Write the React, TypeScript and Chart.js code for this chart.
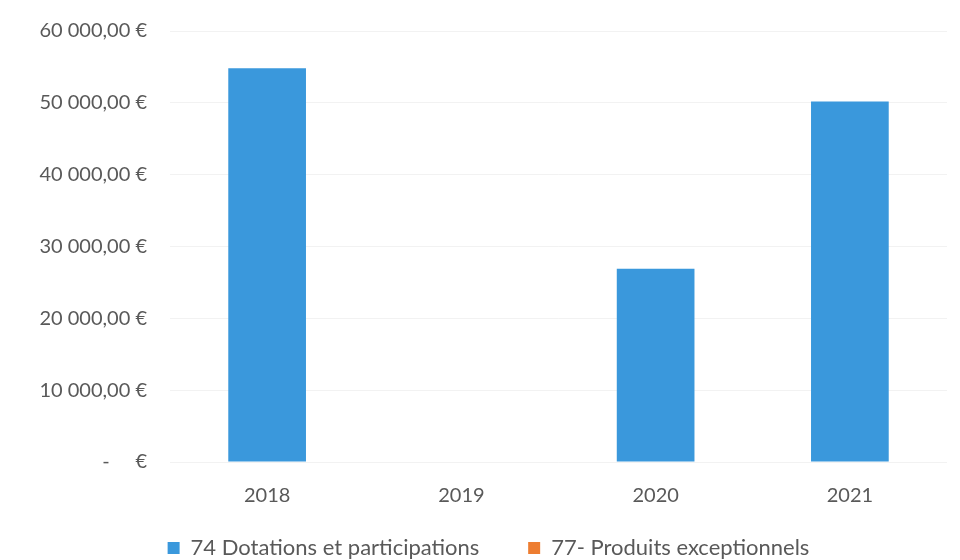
import React, { useEffect, useRef } from "react";
import { Chart, registerables } from "chart.js";

Chart.register(...registerables);

const categories = ["2018", "2019", "2020", "2021"];
const dotations = [54800, 0, 26900, 50200];
const produitsExceptionnels = [0, 0, 0, 0];
const seriesNames = ["74 Dotations et participations", "77- Produits exceptionnels"];
const yTicks = [0, 10000, 20000, 30000, 40000, 50000, 60000];

const FONT = "Lato, 'Open Sans', sans-serif";
const TEXT = "#595959";
const LEFT_PAD = 30;

function fmt(v: number): string {
  if (v === 0) return "-     €";
  const s = Math.round(v).toString().replace(/\B(?=(\d{3})+(?!\d))/g, " ");
  return s + ",00 €";
}

export default function App() {
  const ref = useRef<HTMLCanvasElement | null>(null);
  useEffect(() => {
    if (!ref.current) return;
    const chart = new Chart(ref.current, {
      type: "bar",
      data: {
        labels: categories,
        datasets: [
          {
            label: seriesNames[0],
            data: dotations,
            backgroundColor: "#3A98DC",
            barPercentage: 0.4,
            categoryPercentage: 1,
          },
          {
            label: seriesNames[1],
            data: produitsExceptionnels,
            backgroundColor: "#ED7D31",
            barPercentage: 0.4,
            categoryPercentage: 1,
          },
        ],
      },
      options: {
        animation: false,
        responsive: true,
        maintainAspectRatio: false,
        layout: { padding: { top: 31, right: 13, bottom: -9, left: LEFT_PAD } },
        scales: {
          x: {
            stacked: true,
            grid: { display: false },
            border: { display: false },
            ticks: { color: TEXT, font: { family: FONT, size: 20 }, padding: 14 },
          },
          y: {
            stacked: true,
            min: 0,
            max: 60000,
            afterBuildTicks: (s: any) => {
              s.ticks = yTicks.map((v) => ({ value: v }));
            },
            afterFit: (s: any) => {
              s.width = 170 - LEFT_PAD;
            },
            grid: {
              color: "rgba(0,0,0,0.05)",
              drawTicks: true,
              tickLength: 18,
              tickColor: "rgba(0,0,0,0)",
            },
            border: { display: false },
            ticks: {
              color: TEXT,
              font: { family: FONT, size: 20 },
              padding: 5,
              callback: (v: any) => fmt(Number(v)),
            },
          },
        },
        plugins: {
          legend: {
            position: "bottom",
            labels: {
              color: TEXT,
              font: { family: FONT, size: 22 },
              boxWidth: 12,
              boxHeight: 12,
              padding: 15,
              generateLabels: (c: any) => {
                const items = Chart.defaults.plugins.legend.labels.generateLabels(c);
                return items.map((it: any, i: number) => ({
                  ...it,
                  text: i === 0 ? it.text + "      " : it.text,
                  lineWidth: 0,
                }));
              },
            },
          },
          tooltip: { enabled: false },
        },
      },
    });
    return () => chart.destroy();
  }, []);
  return (
    <div style={{ position: "absolute", left: 0, top: 0, width: 960, height: 560, background: "#fff" }}>
      <canvas ref={ref} />
    </div>
  );
}
